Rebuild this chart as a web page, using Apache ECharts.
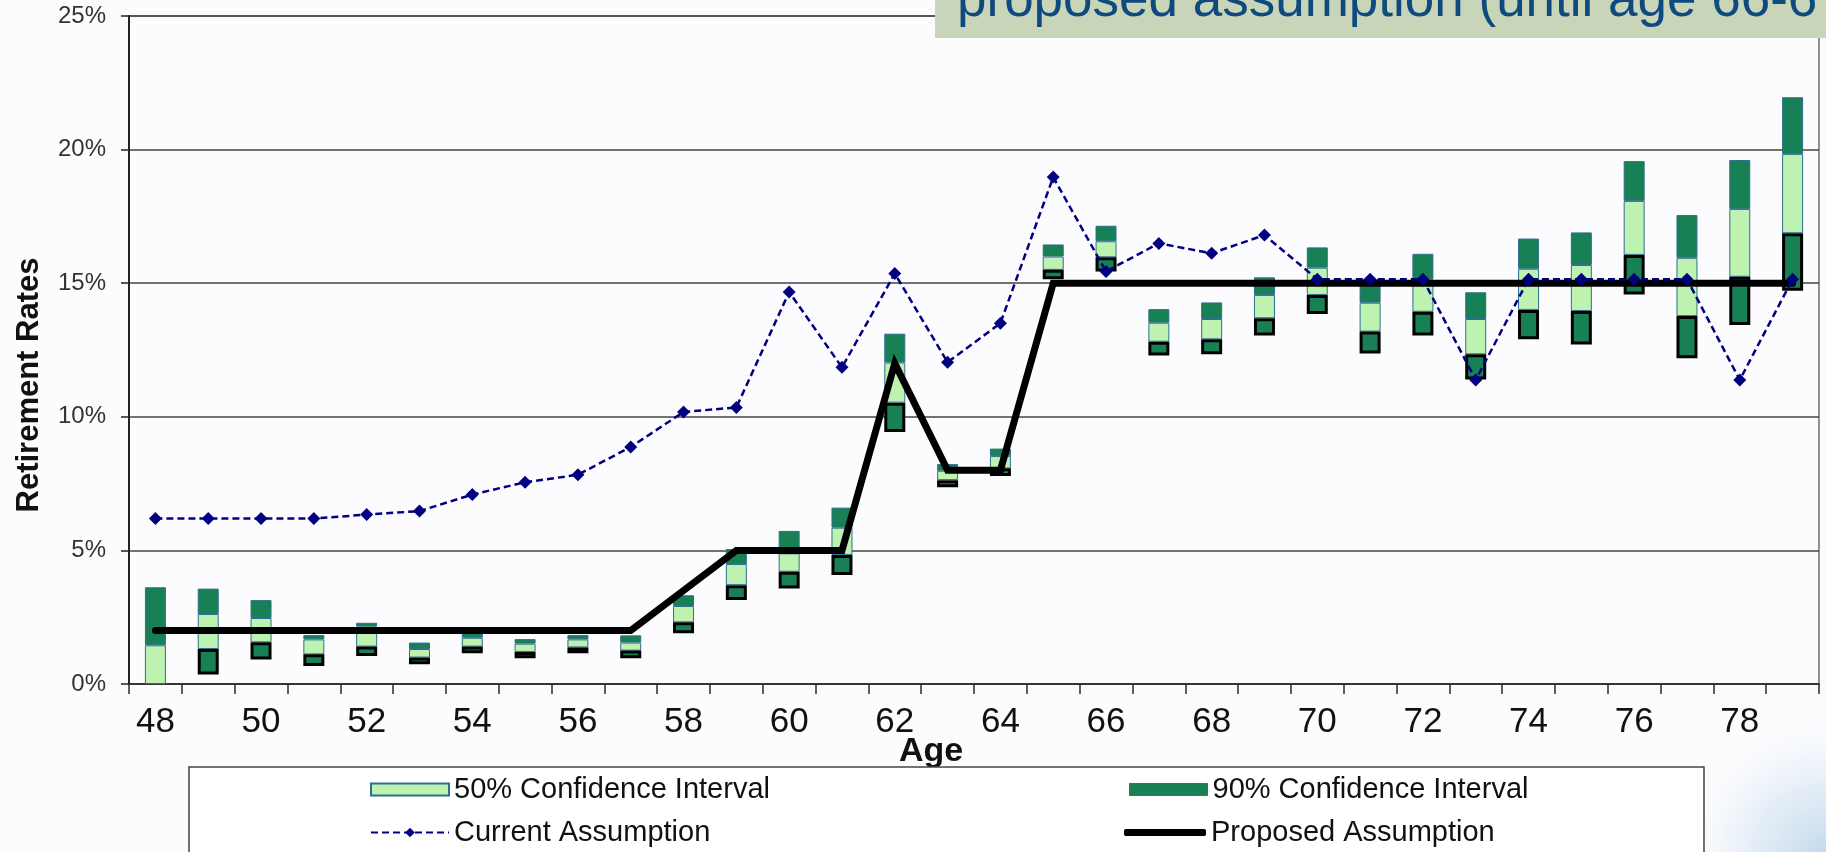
<!DOCTYPE html>
<html>
<head>
<meta charset="utf-8">
<title>Retirement Rates by Age</title>
<script src="https://cdn.jsdelivr.net/npm/echarts@6/dist/echarts.min.js"></script>
<style>
  html, body { margin: 0; padding: 0; background: #fcfcfe; }
  #chart { width: 1826px; height: 852px; }
</style>
</head>
<body>
<div id="chart"></div>
<script>
// Ages on the horizontal axis
const ages = ['48','49','50','51','52','53','54','55','56','57','58','59','60','61','62','63',
              '64','65','66','67','68','69','70','71','72','73','74','75','76','77','78','79'];

// Confidence interval bounds (retirement rate, %)
const p5  = [0.00,0.36,0.92,0.67,1.05,0.74,1.15,0.96,1.15,0.96,1.90,3.14,3.57,4.08,9.43,7.36,
             7.78,15.15,15.44,12.29,12.34,13.04,13.85,12.37,13.04,11.40,12.90,12.71,14.58,12.19,13.44,14.72];
const p25 = [0.00,1.31,1.56,1.11,1.40,0.99,1.40,1.20,1.37,1.25,2.31,3.70,4.20,4.83,10.53,7.63,
             8.07,15.50,15.97,12.81,12.90,13.69,14.56,13.19,13.93,12.34,14.00,13.96,16.06,13.77,15.24,16.87];
const p75 = [1.45,2.62,2.47,1.67,2.15,1.31,1.73,1.51,1.67,1.55,2.92,4.49,4.89,5.85,12.03,7.98,
             8.53,16.00,16.57,13.52,13.66,14.56,15.58,14.27,15.15,13.66,15.54,15.68,18.08,15.95,17.78,19.84];
const p95 = [3.62,3.57,3.14,1.83,2.29,1.55,1.90,1.68,1.83,1.82,3.32,5.05,5.73,6.60,13.11,8.23,
             8.81,16.45,17.15,14.03,14.28,15.22,16.34,15.15,16.10,14.66,16.67,16.90,19.57,17.55,19.61,21.96];

// Assumed retirement rates (%)
const currentAssumption  = [6.19,6.19,6.19,6.19,6.34,6.47,7.09,7.55,7.83,8.87,10.18,10.35,14.67,11.85,15.36,12.04,
                            13.50,18.97,15.44,16.49,16.12,16.80,15.15,15.15,15.15,11.38,15.15,15.15,15.15,15.15,11.38,15.15];
const proposedAssumption = [2,2,2,2,2,2,2,2,2,2,3.5,5,5,5,12,8,
                            8,15,15,15,15,15,15,15,15,15,15,15,15,15,15,15];

// Legend / series names
const NAME_50 = '50% Confidence Interval';
const NAME_90 = '90% Confidence Interval';
const NAME_CUR = 'Current Assumption';
const NAME_PROP = 'Proposed Assumption';

// Stacked segments: invisible offset, lower 90% band, 50% band, upper 90% band
const diff = (hi, lo) => hi.map((v, i) => {
  const d = +(v - lo[i]).toFixed(3);
  return d > 0 ? d : '-';
});
const offsetSeg = p5.slice();
const lowerSeg = diff(p25, p5);
const midSeg = diff(p75, p25);
const upperSeg = diff(p95, p75);

const FONT = "'Liberation Sans', Arial, Helvetica, sans-serif";
const DARK_GREEN = '#188055';
const LIGHT_GREEN = '#bef2b0';
const EDGE = '#2f6e8e';
const BAR_W = 21;

const chart = echarts.init(document.getElementById('chart'), null, { renderer: 'canvas' });

const legendBase = {
  orient: 'horizontal',
  padding: 0,
  itemWidth: 78,
  itemHeight: 12,
  itemGap: 0,
  selectedMode: false,
  textStyle: { fontFamily: FONT, fontSize: 29, color: '#111' }
};

chart.setOption({
  backgroundColor: '#fcfcfe',
  animation: false,
  grid: {
    left: 129, right: 7, top: 16, bottom: 168,
    show: true, borderColor: '#6f6f6f', borderWidth: 1.5, backgroundColor: 'transparent'
  },
  xAxis: {
    type: 'category',
    data: ages,
    boundaryGap: true,
    axisLine: { lineStyle: { color: '#2a2a2a', width: 1.5 } },
    axisTick: { show: true, interval: 0, length: 10, lineStyle: { color: '#2a2a2a', width: 1.5 } },
    axisLabel: { interval: 1, margin: 21, fontFamily: FONT, fontSize: 35, color: '#111' },
    splitLine: { show: false }
  },
  yAxis: {
    type: 'value',
    min: 0, max: 25, interval: 5,
    axisLine: { show: true, lineStyle: { color: '#222', width: 2 } },
    axisTick: { show: true, length: 8, lineStyle: { color: '#222', width: 1.5 } },
    axisLabel: { formatter: '{value}%', margin: 23, fontFamily: FONT, fontSize: 24, color: '#333' },
    splitLine: { show: true, lineStyle: { color: '#444', width: 1.6 } }
  },
  legend: [
    Object.assign({}, legendBase, { left: 370, top: 775, icon: 'rect', data: [NAME_50] }),
    Object.assign({}, legendBase, { left: 1129, top: 775, icon: 'rect',
      data: [{ name: NAME_90, itemStyle: { color: DARK_GREEN, borderColor: EDGE, borderWidth: 1 } }] }),
    Object.assign({}, legendBase, { left: 370, top: 818, data: [NAME_CUR] }),
    Object.assign({}, legendBase, { left: 1124, top: 818, itemWidth: 82, itemHeight: 7,
      data: [{ name: NAME_PROP, icon: 'roundRect', itemStyle: { color: '#000', borderWidth: 0 } }] })
  ],
  graphic: [
    // soft blue shading in the lower right corner
    {
      type: 'rect', z: -10, silent: true,
      shape: { x: 1560, y: 700, width: 266, height: 152 },
      style: {
        fill: new echarts.graphic.RadialGradient(1, 1.05, 0.9, [
          { offset: 0, color: 'rgba(178,206,229,0.8)' },
          { offset: 0.55, color: 'rgba(200,220,238,0.45)' },
          { offset: 1, color: 'rgba(220,232,244,0)' }
        ])
      }
    },
    // legend frame
    {
      type: 'rect', z: 1, silent: true,
      shape: { x: 189, y: 767, width: 1515, height: 100 },
      style: { fill: '#ffffff', stroke: '#444', lineWidth: 1.5 }
    },
    // heading banner
    {
      type: 'rect', z: 10, silent: true,
      shape: { x: 935, y: -10, width: 900, height: 48 },
      style: { fill: '#c8d5b9' }
    },
    {
      type: 'text', z: 11, silent: true,
      x: 957, y: 1,
      style: {
        text: 'proposed assumption (until age 66-6',
        fontFamily: FONT, fontSize: 53, fill: '#0e4a7e',
        align: 'left', verticalAlign: 'middle'
      }
    },
    // axis titles
    {
      type: 'text', silent: true,
      x: 29, y: 385, rotation: Math.PI / 2,
      style: {
        text: 'Retirement Rates',
        fontFamily: FONT, fontSize: 31, fontWeight: 'bold', fill: '#111',
        align: 'center', verticalAlign: 'middle'
      }
    },
    {
      type: 'text', silent: true,
      x: 931, y: 752,
      style: {
        text: 'Age',
        fontFamily: FONT, fontSize: 34, fontWeight: 'bold', fill: '#111',
        align: 'center', verticalAlign: 'middle'
      }
    }
  ],
  series: [
    {
      name: 'offset', type: 'bar', stack: 'ci', barWidth: BAR_W, silent: true, z: 2,
      itemStyle: { color: 'rgba(0,0,0,0)' },
      data: offsetSeg
    },
    {
      name: NAME_90, type: 'bar', stack: 'ci', barWidth: BAR_W, z: 3,
      itemStyle: { color: DARK_GREEN, borderColor: '#000', borderWidth: 3 },
      data: lowerSeg
    },
    {
      name: NAME_50, type: 'bar', stack: 'ci', barWidth: BAR_W, z: 2,
      itemStyle: { color: LIGHT_GREEN, borderColor: EDGE, borderWidth: 1 },
      data: midSeg
    },
    {
      name: NAME_90, type: 'bar', stack: 'ci', barWidth: BAR_W, z: 2,
      itemStyle: { color: DARK_GREEN, borderColor: EDGE, borderWidth: 1 },
      data: upperSeg
    },
    {
      name: NAME_PROP, type: 'line', z: 4,
      data: proposedAssumption,
      showSymbol: false, symbol: 'none',
      lineStyle: { color: '#000', width: 7, cap: 'round', join: 'miter' },
      itemStyle: { color: '#000' }
    },
    {
      name: NAME_CUR, type: 'line', z: 5,
      data: currentAssumption,
      symbol: 'diamond', symbolSize: 13,
      lineStyle: { color: '#000080', width: 2.5, type: [7, 4] },
      itemStyle: { color: '#000080' }
    }
  ]
});
</script>
</body>
</html>
